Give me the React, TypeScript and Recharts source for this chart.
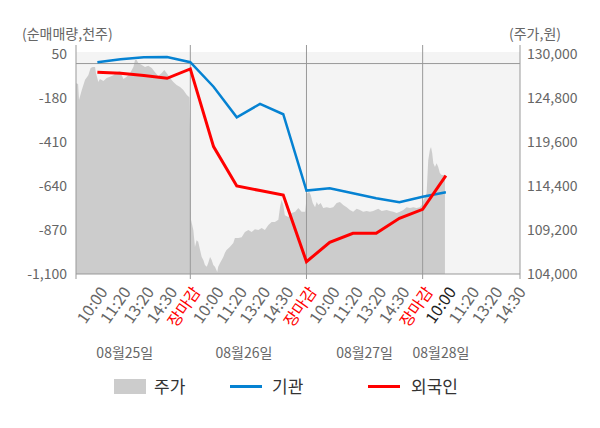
import React from "react"
import {
  ComposedChart,
  Area,
  Line,
  XAxis,
  YAxis,
  CartesianGrid,
  ReferenceLine,
  ReferenceArea,
  Legend,
} from "recharts"

// x axis: one slot per label, 5 per trading day
const timeLabels = [
  "10:00", "11:20", "13:20", "14:30", "장마감",
  "10:00", "11:20", "13:20", "14:30", "장마감",
  "10:00", "11:20", "13:20", "14:30", "장마감",
  "10:00", "11:20", "13:20", "14:30",
]
const dayLabels = ["08월25일", "08월26일", "08월27일", "08월28일"]
const dayLabelAt = [2.18, 7.31, 12.5, 15.79]
const dayEnds = [5, 10, 15]

// 순매매량 (천주), one value per slot 1..16
const institution = [7, 22, 33, 34, 7, -121, -281, -211, -265, -664, -652, -678, -704, -725, -696, -673]
const foreign = [-46, -51, -63, -77, -28, -434, -640, -664, -687, -1036, -934, -887, -887, -809, -762, -586]

// 주가 (원), intraday samples [slot position, price]
const price: [number, number][] = [
  [0.08, 126550], [0.17, 126450], [0.21, 124550], [0.33, 125750], [0.47, 126950], [0.61, 127500],
  [0.71, 128350], [0.8, 128450], [0.9, 128450], [0.94, 127750], [1.04, 126700], [1.11, 127050],
  [1.26, 126800], [1.4, 127150], [1.54, 127300], [1.69, 127500], [1.83, 127850], [1.98, 128000],
  [2.05, 127500], [2.12, 127050], [2.26, 127300], [2.41, 127750], [2.55, 128450], [2.62, 129300],
  [2.69, 129300], [2.76, 128950], [2.91, 128700], [3.05, 128450], [3.19, 128600], [3.34, 128350],
  [3.48, 127850], [3.62, 127400], [3.77, 127750], [3.88, 128100], [3.98, 127750], [4.13, 127150],
  [4.27, 126700], [4.41, 126350], [4.56, 126100], [4.7, 125750], [4.85, 125150], [4.96, 124900],
  [5.01, 117850], [5.03, 110400], [5.13, 109200], [5.2, 107200], [5.27, 108000], [5.34, 107800],
  [5.42, 106850], [5.49, 106000], [5.56, 105650], [5.63, 105050], [5.71, 104850], [5.77, 105300],
  [5.85, 106000], [5.92, 105650], [5.99, 105050], [6.06, 104850], [6.16, 104250], [6.2, 104850],
  [6.28, 105300], [6.35, 105650], [6.42, 106000], [6.49, 106500], [6.56, 106850], [6.7, 107200],
  [6.85, 107650], [6.92, 108250], [7.07, 108250], [7.21, 108350], [7.35, 108950], [7.5, 109200],
  [7.64, 108950], [7.78, 109300], [7.93, 109200], [8.07, 109450], [8.21, 109200], [8.36, 109800],
  [8.5, 110150], [8.64, 110150], [8.79, 110400], [8.86, 111900], [8.93, 112750], [9.0, 112150],
  [9.07, 110950], [9.22, 110750], [9.36, 111200], [9.51, 111350], [9.65, 111800], [9.79, 111350],
  [9.94, 111350], [10.03, 113550], [10.12, 113700], [10.18, 113350], [10.27, 112400], [10.37, 111900],
  [10.44, 112500], [10.51, 112150], [10.61, 112400], [10.72, 111800], [10.87, 111900], [11.01, 111800],
  [11.15, 111900], [11.3, 112400], [11.44, 112500], [11.58, 112150], [11.73, 111900], [11.87, 111550],
  [12.01, 111350], [12.16, 111700], [12.3, 111550], [12.44, 111350], [12.59, 111450], [12.73, 111350],
  [12.87, 111450], [13.09, 111700], [13.24, 111450], [13.45, 111550], [13.59, 111450], [13.74, 111350],
  [13.88, 111200], [14.02, 111350], [14.17, 111550], [14.31, 111900], [14.45, 111800], [14.6, 111900],
  [14.74, 111800], [14.88, 111900], [14.96, 112150], [15.1, 113100], [15.17, 113550], [15.24, 117450],
  [15.31, 118650], [15.36, 119000], [15.41, 118300], [15.46, 117100], [15.53, 116650], [15.6, 117100],
  [15.67, 116650], [15.74, 115950], [15.82, 115700], [15.96, 115700],
]

const leftTicks = [50, -180, -410, -640, -870, -1100]
const rightTicks = [130000, 124800, 119600, 114400, 109200, 104000]

const FONT = "'Noto Sans CJK KR', 'Noto Sans', sans-serif"
const X_MIN = 0.08
const X_MAX = 19.19

const flowData = institution.map((v, i) => ({ x: i + 1, institution: v, foreign: foreign[i] }))
const priceData = price.map(([x, p]) => ({ x, price: p }))
const xTicks = [X_MIN, ...timeLabels.map((_, i) => i + 1), X_MAX]

function TimeTick(props: any) {
  const { x, y, payload } = props
  const v = payload.value
  const i = Math.round(v)
  const edge = Math.abs(v - i) > 0.01
  const label = edge ? "" : timeLabels[i - 1]
  const boundary = edge || i % 5 === 0
  let color = "#666"
  if (label === "장마감") color = "#ff0000"
  if (i === institution.length && !edge) color = "#222"
  const ax = x + 11
  const ay = y + 18
  return (
    <g>
      {boundary && <line x1={x} x2={x} y1={y} y2={y + 5} stroke="#999" />}
      {label && (
        <text
          x={ax}
          y={ay}
          transform={`rotate(-55 ${ax} ${ay})`}
          textAnchor="end"
          fontSize={16}
          fontFamily={FONT}
          fill={color}
        >
          {label}
        </text>
      )}
    </g>
  )
}

function DayTick(props: any) {
  const { x, y, payload, index } = props
  return (
    <text x={x} y={y + 16} textAnchor="middle" fontSize={14} fontFamily={FONT} fill="#666">
      {dayLabels[index] ?? payload.value}
    </text>
  )
}

function LegendBox() {
  const text = { position: "absolute" as const, top: 0, fontSize: 17, color: "#333", lineHeight: "22px" }
  return (
    <div style={{ position: "relative", width: 600, height: 24, fontFamily: FONT }}>
      <div style={{ position: "absolute", left: 114, top: 4, width: 32, height: 15, background: "#cccccc" }} />
      <span style={{ ...text, left: 154 }}>주가</span>
      <div style={{ position: "absolute", left: 230, top: 10, width: 32, height: 3, background: "#0582d2" }} />
      <span style={{ ...text, left: 272 }}>기관</span>
      <div style={{ position: "absolute", left: 368, top: 10, width: 32, height: 3, background: "#ff0000" }} />
      <span style={{ ...text, left: 411 }}>외국인</span>
    </div>
  )
}

export default function App() {
  return (
    <div style={{ position: "absolute", left: 0, top: 0, width: 600, height: 428, background: "#fff", fontFamily: FONT }}>
      <div style={{ position: "absolute", left: 22, top: 23, fontSize: 14, color: "#666", whiteSpace: "nowrap" }}>
        (순매매량,천주)
      </div>
      <div style={{ position: "absolute", left: 509, top: 23, fontSize: 14, color: "#666", whiteSpace: "nowrap" }}>
        (주가,원)
      </div>
      <ComposedChart width={600} height={428} margin={{ top: 45, right: 0, bottom: 66, left: 0 }}>
        <ReferenceArea
          xAxisId="a"
          yAxisId="left"
          x1={X_MIN}
          x2={X_MAX}
          y1={-1100}
          y2={60.5}
          fill="#f4f4f4"
          fillOpacity={1}
          stroke="none"
          ifOverflow="hidden"
        />
        <CartesianGrid
          xAxisId="a"
          yAxisId="left"
          vertical={false}
          horizontalValues={leftTicks.slice(1, -1)}
          stroke="#dcdcdc"
        />
        <XAxis
          xAxisId="a"
          dataKey="x"
          type="number"
          domain={[X_MIN, X_MAX]}
          allowDataOverflow
          ticks={xTicks}
          interval={0}
          tick={<TimeTick />}
          tickLine={false}
          tickSize={0}
          tickMargin={0}
          axisLine={{ stroke: "#999" }}
          height={68}
        />
        <XAxis
          xAxisId="b"
          dataKey="x"
          type="number"
          domain={[X_MIN, X_MAX]}
          allowDataOverflow
          ticks={dayLabelAt}
          interval={0}
          tick={<DayTick />}
          tickLine={false}
          tickSize={0}
          tickMargin={0}
          axisLine={false}
          height={20}
        />
        <YAxis
          yAxisId="left"
          orientation="left"
          width={76}
          domain={[-1100, 97]}
          allowDataOverflow
          ticks={leftTicks}
          interval={0}
          tickFormatter={(v: number) => v.toLocaleString("en-US")}
          tick={{ fontSize: 14, fill: "#666", fontFamily: FONT }}
          tickLine={false}
          tickSize={0}
          tickMargin={9}
          axisLine={{ stroke: "#999" }}
        />
        <YAxis
          yAxisId="right"
          orientation="right"
          width={80}
          domain={[104000, 131064]}
          allowDataOverflow
          ticks={rightTicks}
          interval={0}
          tickFormatter={(v: number) => v.toLocaleString("en-US")}
          tick={{ fontSize: 14, fill: "#666", fontFamily: FONT, textAnchor: "start" }}
          tickLine={false}
          tickSize={0}
          tickMargin={7}
          axisLine={{ stroke: "#999" }}
        />
        <Area
          xAxisId="a"
          yAxisId="right"
          data={priceData}
          dataKey="price"
          name="주가"
          type="linear"
          fill="#cccccc"
          fillOpacity={1}
          stroke="none"
          baseValue={104000}
          isAnimationActive={false}
        />
        <ReferenceLine xAxisId="a" yAxisId="left" y={0} stroke="#999" />
        {dayEnds.map((d) => (
          <ReferenceLine key={d} xAxisId="a" yAxisId="left" x={d} stroke="#999" />
        ))}
        <Line
          xAxisId="a"
          yAxisId="left"
          data={flowData}
          dataKey="institution"
          name="기관"
          type="linear"
          stroke="#0582d2"
          strokeWidth={2.5}
          dot={false}
          isAnimationActive={false}
        />
        <Line
          xAxisId="a"
          yAxisId="left"
          data={flowData}
          dataKey="foreign"
          name="외국인"
          type="linear"
          stroke="#ff0000"
          strokeWidth={3}
          dot={false}
          isAnimationActive={false}
        />
        <Legend
          verticalAlign="middle"
          align="center"
          wrapperStyle={{ top: 375, left: 0, width: 600 }}
          content={<LegendBox />}
        />
      </ComposedChart>
    </div>
  )
}
